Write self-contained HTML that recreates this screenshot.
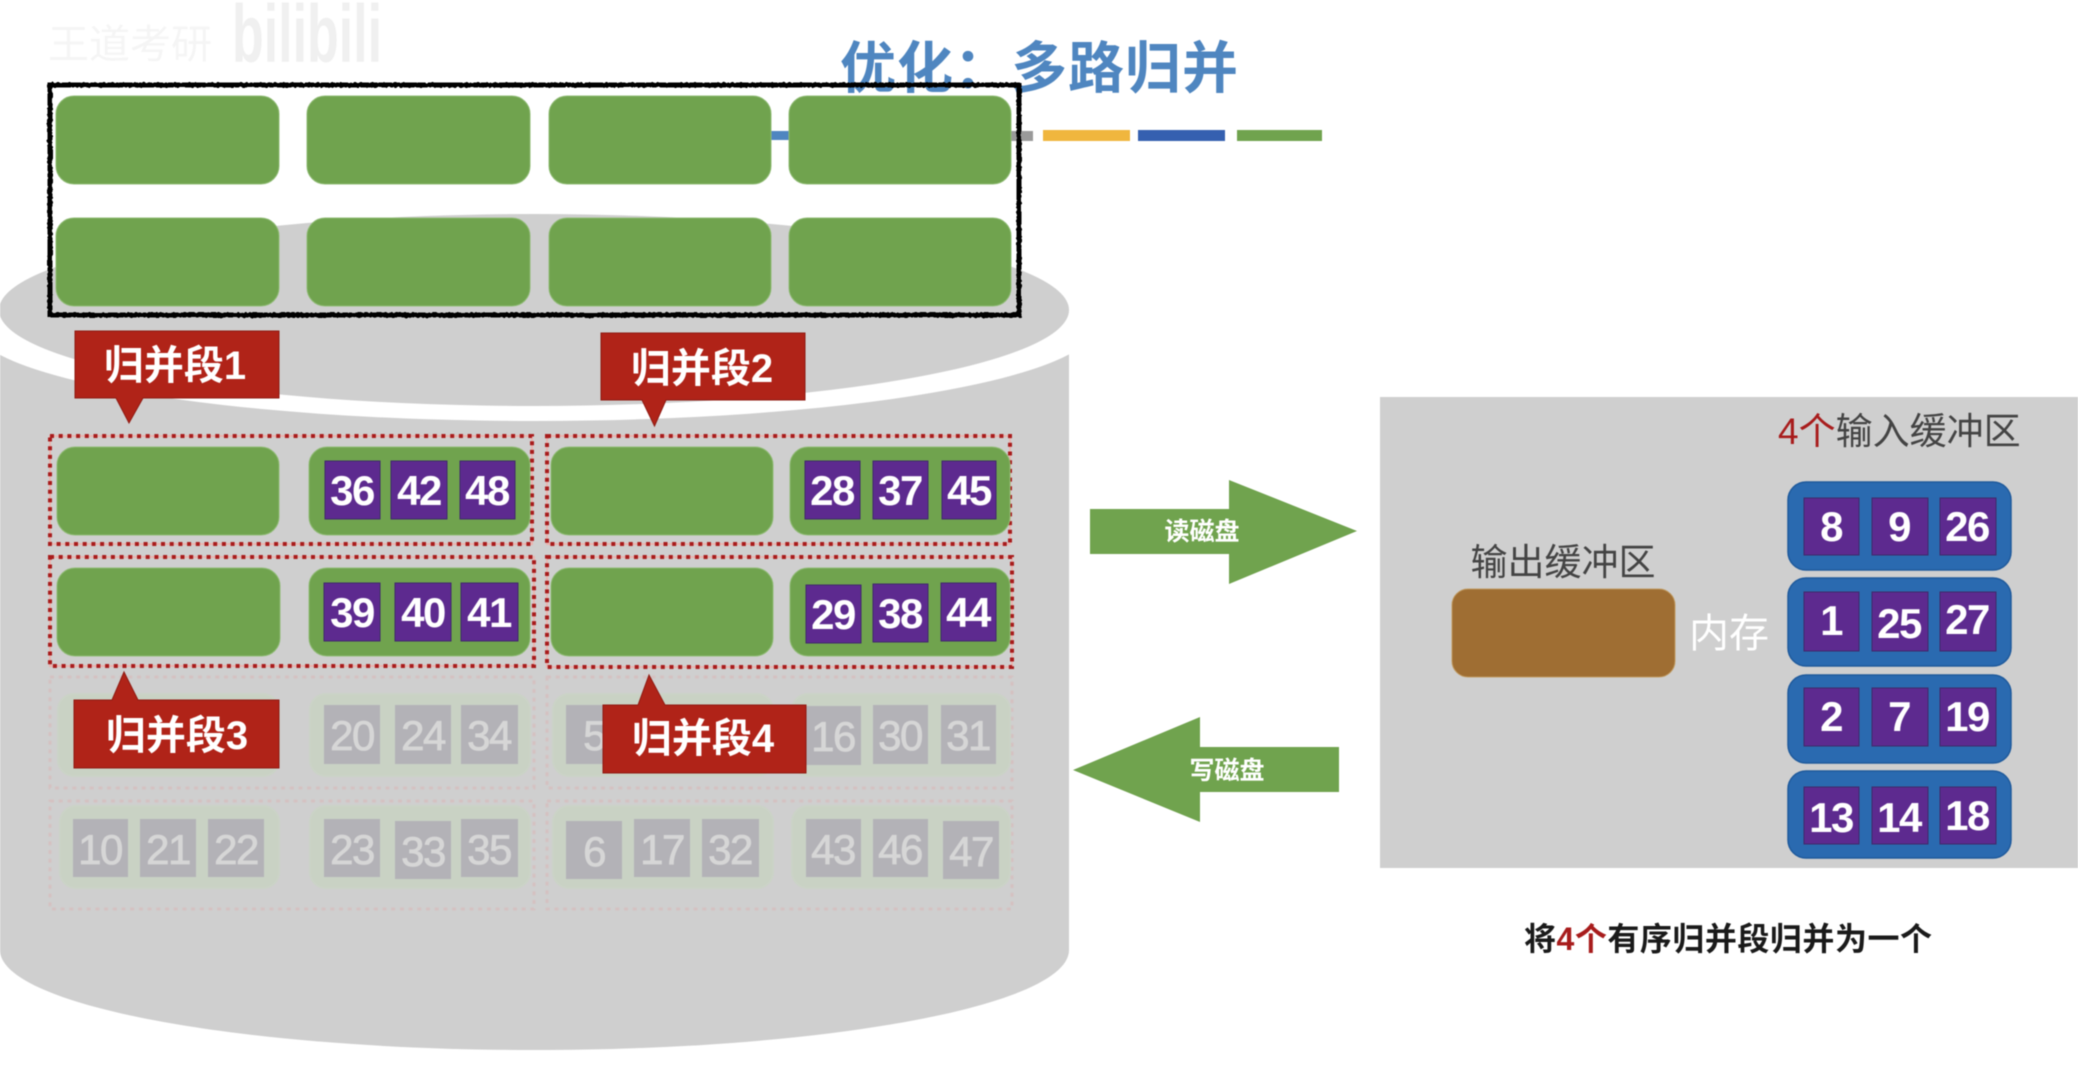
<!DOCTYPE html>
<html lang="zh"><head><meta charset="utf-8"><title>优化：多路归并</title>
<style>
html,body{margin:0;padding:0;background:#fff;width:2078px;height:1065px;overflow:hidden}
svg{display:block;filter:blur(.6px)}
text{font-family:"Liberation Sans","Noto Sans CJK SC",sans-serif}
.g{fill:#70a34e;stroke:#8fbb74;stroke-width:1}
.fg{fill:#c9d2c4;stroke:#cbd3c7;stroke-width:2}
.p{fill:#5d2a8f;stroke:#3f2a6a;stroke-width:1}
.fp{fill:#b3b2b7}
.n{fill:#fff;font-size:42px;font-weight:700;text-anchor:middle;letter-spacing:-1.5px}
.fn{fill:#d6d6d6;font-size:42px;font-weight:400;stroke:#d6d6d6;stroke-width:.8;text-anchor:middle;letter-spacing:-1.5px}
.d{fill:none;stroke:#a81c1c;stroke-width:4;stroke-dasharray:4 4.7}
.dp{fill:none;stroke:#eab4b0;stroke-width:2}
.fd{fill:none;stroke:#d4c2c2;stroke-width:3;stroke-dasharray:4 4.7}
.c{fill:#b02318;stroke:#8f1a12;stroke-width:1}
.ct{fill:#fff;font-size:40px;font-weight:700;text-anchor:middle}
.b{fill:#2a6ab0;stroke:#1f5a9c;stroke-width:1.5}
.a{fill:#70a34e}
.at{fill:#fff;font-size:25px;font-weight:700;text-anchor:middle}
.l{fill:#444;font-size:37px;text-anchor:middle}
</style></head><body>
<svg xmlns="http://www.w3.org/2000/svg" width="2078" height="1065" viewBox="0 0 2078 1065">
<defs><filter id="rough" x="-2%" y="-5%" width="104%" height="110%"><feTurbulence type="fractalNoise" baseFrequency="0.35" numOctaves="1" seed="4"/><feDisplacementMap in="SourceGraphic" scale="3"/></filter></defs>
<rect width="2078" height="1065" fill="#fff"/>
<!-- watermark -->
<text x="48" y="58" font-size="40" fill="#f5f5f5" textLength="164" lengthAdjust="spacingAndGlyphs">王道考研</text>
<text x="232" y="62" font-size="82" font-weight="700" fill="#f0f0f0" textLength="150" lengthAdjust="spacingAndGlyphs">bilibili</text>
<!-- title -->
<text x="840" y="88" font-size="56" font-weight="700" fill="#4f86c0" textLength="398">优化：多路归并</text>
<rect x="760" y="131" width="50" height="9" fill="#4f86c0"/>
<rect x="1000" y="131" width="33" height="10" fill="#9a9a9a"/>
<rect x="1043" y="130" width="87" height="11" fill="#f0b63e"/>
<rect x="1138" y="130" width="87" height="11" fill="#3560b0"/>
<rect x="1237" y="130" width="85" height="11" fill="#70a34e"/>
<!-- cylinder -->
<path d="M0 300H1069V950C1069 1005 830 1050 534 1050C238 1050 0 1005 0 950Z" fill="#cfcfcf"/>
<ellipse cx="534" cy="325" rx="562" ry="96" fill="#fff"/>
<rect x="0" y="200" width="1078" height="110" fill="#fff"/>
<ellipse cx="534" cy="310" rx="535" ry="96" fill="#cfcfcf"/>
<!-- top block -->
<rect x="50" y="85" width="969" height="230" fill="none" stroke="#000" stroke-width="5" filter="url(#rough)"/>
<rect class="g" x="56" y="96" width="223" height="88" rx="18"/>
<rect class="g" x="307" y="96" width="223" height="88" rx="18"/>
<rect class="g" x="549" y="96" width="222" height="88" rx="18"/>
<rect class="g" x="789" y="96" width="222" height="88" rx="18"/>
<rect class="g" x="56" y="218" width="223" height="88" rx="18"/>
<rect class="g" x="307" y="218" width="223" height="88" rx="18"/>
<rect class="g" x="549" y="218" width="222" height="88" rx="18"/>
<rect class="g" x="789" y="218" width="222" height="88" rx="18"/>
<!-- faded rows -->
<rect class="fd" x="50" y="677" width="484" height="111"/>
<rect class="fd" x="547" y="677" width="465" height="111"/>
<rect class="fd" x="50" y="801" width="484" height="108"/>
<rect class="fd" x="547" y="801" width="465" height="108"/>
<rect class="fg" x="58" y="694" width="221" height="82" rx="16"/>
<rect class="fg" x="310" y="694" width="220" height="82" rx="16"/>
<rect class="fg" x="553" y="694" width="220" height="82" rx="16"/>
<rect class="fg" x="792" y="694" width="218" height="82" rx="16"/>
<rect class="fg" x="60" y="806" width="219" height="82" rx="16"/>
<rect class="fg" x="310" y="806" width="220" height="82" rx="16"/>
<rect class="fg" x="553" y="806" width="220" height="82" rx="16"/>
<rect class="fg" x="792" y="806" width="218" height="82" rx="16"/>
<rect class="fp" x="324" y="705" width="56" height="59"/><text class="fn" x="352" y="750">20</text>
<rect class="fp" x="395" y="705" width="56" height="59"/><text class="fn" x="423" y="750">24</text>
<rect class="fp" x="461" y="705" width="57" height="59"/><text class="fn" x="489" y="750">34</text>
<rect class="fp" x="566" y="705" width="56" height="59"/><text class="fn" x="594" y="750">5</text>
<rect class="fp" x="806" y="706" width="55" height="59"/><text class="fn" x="833" y="751">16</text>
<rect class="fp" x="873" y="705" width="55" height="59"/><text class="fn" x="900" y="750">30</text>
<rect class="fp" x="941" y="705" width="55" height="59"/><text class="fn" x="968" y="750">31</text>
<rect class="fp" x="73" y="819" width="55" height="58"/><text class="fn" x="100" y="864">10</text>
<rect class="fp" x="140" y="819" width="56" height="58"/><text class="fn" x="168" y="864">21</text>
<rect class="fp" x="208" y="819" width="56" height="58"/><text class="fn" x="236" y="864">22</text>
<rect class="fp" x="324" y="819" width="56" height="58"/><text class="fn" x="352" y="864">23</text>
<rect class="fp" x="395" y="821" width="56" height="58"/><text class="fn" x="423" y="866">33</text>
<rect class="fp" x="461" y="819" width="57" height="58"/><text class="fn" x="489" y="864">35</text>
<rect class="fp" x="566" y="821" width="56" height="58"/><text class="fn" x="594" y="866">6</text>
<rect class="fp" x="634" y="819" width="56" height="58"/><text class="fn" x="662" y="864">17</text>
<rect class="fp" x="702" y="819" width="57" height="58"/><text class="fn" x="730" y="864">32</text>
<rect class="fp" x="806" y="819" width="55" height="58"/><text class="fn" x="833" y="864">43</text>
<rect class="fp" x="873" y="819" width="55" height="58"/><text class="fn" x="900" y="864">46</text>
<rect class="fp" x="943" y="821" width="56" height="58"/><text class="fn" x="971" y="866">47</text>
<!-- active rows -->
<rect class="dp" x="50" y="436" width="482" height="108"/><rect class="d" x="50" y="436" width="482" height="108"/>
<rect class="dp" x="547" y="436" width="463" height="108"/><rect class="d" x="547" y="436" width="463" height="108"/>
<rect class="dp" x="50" y="557" width="484" height="109"/><rect class="d" x="50" y="557" width="484" height="109"/>
<rect class="dp" x="547" y="557" width="465" height="110"/><rect class="d" x="547" y="557" width="465" height="110"/>
<rect class="g" x="57" y="447" width="222" height="88" rx="18"/>
<rect class="g" x="309" y="447" width="221" height="88" rx="18"/>
<rect class="g" x="551" y="447" width="222" height="88" rx="18"/>
<rect class="g" x="790" y="447" width="220" height="88" rx="18"/>
<rect class="g" x="57" y="568" width="223" height="88" rx="18"/>
<rect class="g" x="309" y="568" width="221" height="88" rx="18"/>
<rect class="g" x="551" y="568" width="222" height="88" rx="18"/>
<rect class="g" x="790" y="568" width="220" height="88" rx="18"/>
<rect class="p" x="325" y="461" width="55" height="58"/><text class="n" x="352" y="505">36</text>
<rect class="p" x="391" y="461" width="56" height="58"/><text class="n" x="419" y="505">42</text>
<rect class="p" x="460" y="461" width="55" height="58"/><text class="n" x="487" y="505">48</text>
<rect class="p" x="805" y="461" width="55" height="58"/><text class="n" x="832" y="505">28</text>
<rect class="p" x="873" y="461" width="55" height="58"/><text class="n" x="900" y="505">37</text>
<rect class="p" x="942" y="461" width="54" height="58"/><text class="n" x="969" y="505">45</text>
<rect class="p" x="324" y="583" width="56" height="58"/><text class="n" x="352" y="627">39</text>
<rect class="p" x="395" y="583" width="56" height="58"/><text class="n" x="423" y="627">40</text>
<rect class="p" x="461" y="583" width="57" height="58"/><text class="n" x="489" y="627">41</text>
<rect class="p" x="806" y="585" width="55" height="58"/><text class="n" x="833" y="629">29</text>
<rect class="p" x="873" y="584" width="55" height="58"/><text class="n" x="900" y="628">38</text>
<rect class="p" x="941" y="583" width="55" height="58"/><text class="n" x="968" y="627">44</text>
<!-- callouts -->
<path class="c" d="M75 331H279V398H143L129 423L116 398H75Z"/><text class="ct" x="175" y="379">归并段1</text>
<path class="c" d="M601 333H805V400H666L654.5 426L642 400H601Z"/><text class="ct" x="702" y="382">归并段2</text>
<path class="c" d="M74 700H112L124 672L138 700H279V768H74Z"/><text class="ct" x="177" y="749">归并段3</text>
<path class="c" d="M603 705H638L649 675L665 705H806V773H603Z"/><text class="ct" x="703" y="752">归并段4</text>
<!-- arrows -->
<polygon class="a" points="1090,509 1229,509 1229,480 1357,531 1229,584 1229,554 1090,554"/>
<text class="at" x="1202" y="540">读磁盘</text>
<polygon class="a" points="1073,770 1200,717 1200,747 1339,747 1339,792 1200,792 1200,822"/>
<text class="at" x="1227" y="779">写磁盘</text>
<!-- memory panel -->
<rect x="1380" y="397" width="698" height="471" fill="#cfcfcf"/>
<text x="1778" y="444" font-size="37" fill="#444"><tspan fill="#a81c1c">4个</tspan>输入缓冲区</text>
<text class="l" x="1563" y="575">输出缓冲区</text>
<rect x="1452" y="589" width="223" height="88" rx="16" fill="#9f6e33" stroke="#c09a60"/>
<text x="1729" y="647" font-size="40" fill="#fff" text-anchor="middle">内存</text>
<rect class="b" x="1788" y="482" width="223" height="88" rx="18"/>
<rect class="b" x="1788" y="578" width="223" height="88" rx="18"/>
<rect class="b" x="1788" y="675" width="223" height="88" rx="18"/>
<rect class="b" x="1788" y="771" width="223" height="87" rx="18"/>
<rect class="p" x="1804" y="498" width="55" height="57" stroke="none"/><text class="n" x="1831" y="541">8</text>
<rect class="p" x="1872" y="498" width="56" height="57" stroke="none"/><text class="n" x="1899" y="541">9</text>
<rect class="p" x="1940" y="498" width="56" height="57" stroke="none"/><text class="n" x="1967" y="541">26</text>
<rect class="p" x="1804" y="592" width="55" height="59" stroke="none"/><text class="n" x="1831" y="635">1</text>
<rect class="p" x="1872" y="592" width="56" height="59" stroke="none"/><text class="n" x="1899" y="638">25</text>
<rect class="p" x="1940" y="592" width="56" height="59" stroke="none"/><text class="n" x="1967" y="634">27</text>
<rect class="p" x="1804" y="688" width="55" height="58" stroke="none"/><text class="n" x="1831" y="731">2</text>
<rect class="p" x="1872" y="688" width="56" height="58" stroke="none"/><text class="n" x="1899" y="731">7</text>
<rect class="p" x="1940" y="688" width="56" height="58" stroke="none"/><text class="n" x="1967" y="731">19</text>
<rect class="p" x="1804" y="787" width="55" height="57" stroke="none"/><text class="n" x="1831" y="832">13</text>
<rect class="p" x="1872" y="787" width="56" height="57" stroke="none"/><text class="n" x="1899" y="832">14</text>
<rect class="p" x="1940" y="787" width="56" height="57" stroke="none"/><text class="n" x="1967" y="830">18</text>
<text x="1524" y="950" font-size="32" font-weight="700" fill="#1a1a1a" textLength="408">将<tspan fill="#a81c1c">4个</tspan>有序归并段归并为一个</text>
</svg>
</body></html>
